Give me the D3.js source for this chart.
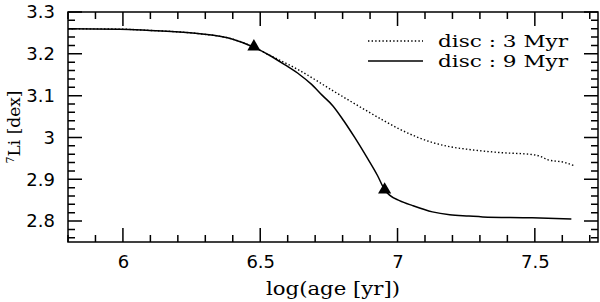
<!DOCTYPE html>
<html>
<head>
<meta charset="utf-8">
<script src="https://cdn.jsdelivr.net/npm/d3@7"></script>
<style>
  body { margin: 0; background: #fff; }
  svg { display: block; }
</style>
</head>
<body>
<div id="chart"></div>
<script>
// lithium vs age, two disc lifetimes
const disc9Age = [5.80, 5.99, 6.098, 6.189, 6.28, 6.40, 6.473, 6.535, 6.589, 6.644, 6.687, 6.727, 6.764, 6.804, 6.844, 6.887, 6.927, 6.953, 6.971, 7.007, 7.055, 7.127, 7.19, 7.26, 7.31, 7.49, 7.633];
const disc9Li  = [3.260, 3.259, 3.256, 3.253, 3.248, 3.235, 3.217, 3.196, 3.174, 3.150, 3.127, 3.100, 3.076, 3.040, 3.000, 2.954, 2.909, 2.875, 2.862, 2.849, 2.837, 2.822, 2.815, 2.812, 2.810, 2.808, 2.805];

const disc3Age = [5.80, 5.99, 6.098, 6.189, 6.28, 6.40, 6.473, 6.524, 6.644, 6.764, 6.825, 6.887, 6.945, 7.007, 7.127, 7.189, 7.251, 7.371, 7.491, 7.527, 7.545, 7.61, 7.64];
const disc3Li  = [3.260, 3.259, 3.256, 3.253, 3.248, 3.235, 3.217, 3.200, 3.160, 3.112, 3.088, 3.064, 3.042, 3.020, 2.988, 2.978, 2.972, 2.964, 2.959, 2.953, 2.947, 2.940, 2.933];

// disc dissipation markers
const markerAge = [6.477, 6.953];
const markerLi  = [3.217, 2.875];

const legendLabels = ["disc : 3 Myr", "disc : 9 Myr"];

const xMajor = [6, 6.5, 7, 7.5];
const yMajor = [2.8, 2.9, 3.0, 3.1, 3.2, 3.3];

const w = 600, h = 302;
const mLeft = 68, mRight = 598, mTop = 12, mBottom = 242;

const x = d3.scaleLinear().domain([5.8, 7.73]).range([mLeft, mRight]);
const y = d3.scaleLinear().domain([2.75, 3.3]).range([mBottom, mTop]);

const xMinor = d3.range(5.8, 7.731, 0.1).map(v => +v.toFixed(2)).filter(v => !xMajor.some(m => Math.abs(m - v) < 1e-6));
const yMinor = d3.range(2.76, 3.3, 0.02).map(v => +v.toFixed(2)).filter(v => !yMajor.some(m => Math.abs(m - v) < 1e-6));

const svg = d3.select("#chart").append("svg")
  .attr("width", w)
  .attr("height", h);

const sansFont = "DejaVu Sans, Helvetica, Arial, sans-serif";
const serifFont = "DejaVu Serif, serif";

svg.append("rect")
  .attr("x", mLeft).attr("y", mTop)
  .attr("width", mRight - mLeft).attr("height", mBottom - mTop)
  .attr("fill", "none").attr("stroke", "#000").attr("stroke-width", 1.5);

// tick labels from d3 axes
const xAxis = svg.append("g")
  .attr("transform", `translate(0,${mBottom})`)
  .call(d3.axisBottom(x).tickValues(xMajor).tickSize(0).tickPadding(13).tickFormat(d3.format("")));
const yAxis = svg.append("g")
  .attr("transform", `translate(${mLeft},0)`)
  .call(d3.axisLeft(y).tickValues(yMajor).tickSize(0).tickPadding(13).tickFormat(d3.format("")));
[xAxis, yAxis].forEach(g => {
  g.select(".domain").remove();
  g.selectAll(".tick line").remove();
  g.selectAll(".tick text")
    .attr("font-family", sansFont)
    .attr("font-size", "18px")
    .attr("fill", "#000");
});
xAxis.selectAll(".tick text").attr("dy", "0.71em");

// inward ticks on all four sides, as one path
const tickPath = d3.path();
function xTicks(values, len) {
  values.forEach(v => {
    tickPath.moveTo(x(v), mBottom); tickPath.lineTo(x(v), mBottom - len);
    tickPath.moveTo(x(v), mTop); tickPath.lineTo(x(v), mTop + len);
  });
}
function yTicks(values, len) {
  values.forEach(v => {
    tickPath.moveTo(mLeft, y(v)); tickPath.lineTo(mLeft + len, y(v));
    tickPath.moveTo(mRight, y(v)); tickPath.lineTo(mRight - len, y(v));
  });
}
xTicks(xMajor, 14);
xTicks(xMinor, 7);
yTicks(yMajor, 14);
yTicks(yMinor, 7);
svg.append("path")
  .attr("d", tickPath.toString())
  .attr("fill", "none")
  .attr("stroke", "#000")
  .attr("stroke-width", 1.5);

const line = d3.line()
  .x(d => x(d[0]))
  .y(d => y(d[1]))
  .curve(d3.curveMonotoneX);

svg.append("path")
  .attr("d", line(d3.zip(disc3Age, disc3Li)))
  .attr("fill", "none")
  .attr("stroke", "#000")
  .attr("stroke-width", 1.4)
  .attr("stroke-dasharray", "1.4,2.2");

svg.append("path")
  .attr("d", line(d3.zip(disc9Age, disc9Li)))
  .attr("fill", "none")
  .attr("stroke", "#000")
  .attr("stroke-width", 1.5);

svg.selectAll("path.marker")
  .data(d3.zip(markerAge, markerLi))
  .enter()
  .append("path")
  .attr("class", "marker")
  .attr("d", d3.symbol().type(d3.symbolTriangle).size(75))
  .attr("transform", d => `translate(${x(d[0])},${y(d[1])})`)
  .attr("fill", "#000");

// legend
const legend = svg.append("g");
legendLabels.forEach((label, i) => {
  const ly = 41 + i * 20;
  legend.append("line")
    .attr("x1", 368).attr("x2", 423)
    .attr("y1", ly).attr("y2", ly)
    .attr("stroke", "#000")
    .attr("stroke-width", i === 0 ? 1.4 : 1.5)
    .attr("stroke-dasharray", i === 0 ? "1.4,2.2" : null);
  legend.append("text")
    .attr("x", 438)
    .attr("y", ly + 6)
    .attr("font-family", serifFont)
    .attr("font-size", "17px")
    .attr("textLength", 130)
    .attr("lengthAdjust", "spacingAndGlyphs")
    .attr("fill", "#000")
    .text(label);
});

// axis titles
svg.append("text")
  .attr("x", (mLeft + mRight) / 2)
  .attr("y", 295)
  .attr("text-anchor", "middle")
  .attr("font-family", serifFont)
  .attr("font-size", "18px")
  .attr("textLength", 134)
  .attr("lengthAdjust", "spacingAndGlyphs")
  .attr("fill", "#000")
  .text("log(age [yr])");

const yTitle = svg.append("text")
  .attr("transform", `translate(20,${(mTop + mBottom) / 2}) rotate(-90)`)
  .attr("text-anchor", "middle")
  .attr("font-family", serifFont)
  .attr("font-size", "17px")
  .attr("fill", "#000");
yTitle.append("tspan").attr("font-size", "11px").attr("dy", "-6").text("7");
yTitle.append("tspan").attr("dy", "6").text("Li [dex]");
</script>
</body>
</html>
